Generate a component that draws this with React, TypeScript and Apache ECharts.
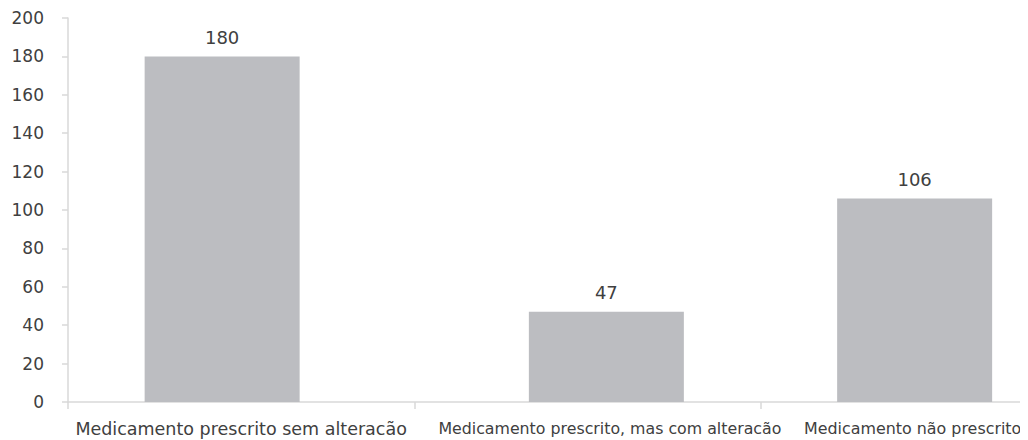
import React, { useEffect, useRef } from "react";
import * as echarts from "echarts";

const categories = [
  "Medicamento prescrito sem alteracão",
  "Medicamento prescrito, mas com alteracão",
  "Medicamento não prescrito",
];
const categoryFontSizes = [17.5, 15.8, 15.9];
const categoryLabelPadding = [
  [0, 0, 0, 0],
  [0, 0, 0, 45],
  [0, 42, 0, 0],
];
const values = [180, 47, 106];
// bars 1 and 3 sit slightly left of their slot, bar 2 slightly right (as in the source)
const barGroup = ["a", "b", "a"];
const yMin = 0;
const yMax = 200;
const yInterval = 20;

export default function App() {
  const ref = useRef<HTMLDivElement>(null);
  useEffect(() => {
    if (!ref.current) return;
    const chart = echarts.init(ref.current, undefined, { renderer: "svg" });
    const font = "DejaVu Sans";
    const labelStyle = {
      show: true,
      position: "top",
      distance: 10,
      color: "#404040",
      fontFamily: font,
      fontSize: 18,
    };
    const mk = (g: string) => ({
      type: "bar",
      name: g,
      data: values.map((v, i) => (barGroup[i] === g ? v : "-")),
      barWidth: 155,
      barGap: "-75.5%",
      itemStyle: { color: "#bcbdc1" },
      label: labelStyle,
    });
    chart.setOption({
      animation: false,
      backgroundColor: "#ffffff",
      grid: {
        left: 60,
        top: 10,
        width: 1038.75,
        height: 384,
        outerBoundsMode: "none",
        containLabel: false,
      },
      xAxis: {
        type: "category",
        data: categories.map((c, i) => ({
          value: c,
          textStyle: { fontSize: categoryFontSizes[i], padding: categoryLabelPadding[i] },
        })),
        axisLine: { lineStyle: { color: "#d9d9d9", width: 1.5 } },
        axisTick: { show: true, length: 7, lineStyle: { color: "#d9d9d9", width: 1.5 } },
        axisLabel: { color: "#404040", fontFamily: font, margin: 18, interval: 0 },
      },
      yAxis: {
        type: "value",
        min: yMin,
        max: yMax,
        interval: yInterval,
        axisLine: { show: true, lineStyle: { color: "#d9d9d9", width: 1.5 } },
        axisTick: { show: true, length: 6, lineStyle: { color: "#d9d9d9", width: 1.5 } },
        splitLine: { show: false },
        axisLabel: {
          color: "#404040",
          fontFamily: font,
          fontSize: 17,
          margin: 24,
          padding: [8, 0, 0, 0],
        },
      },
      series: [mk("a"), mk("b")],
    });
    return () => chart.dispose();
  }, []);
  return <div ref={ref} style={{ width: 1020, height: 432 }} />;
}
